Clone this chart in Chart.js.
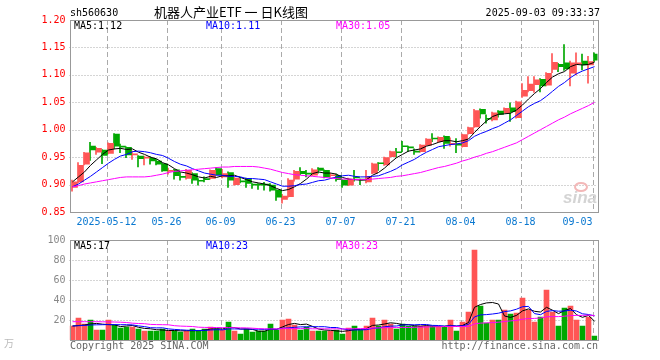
<!DOCTYPE html>
<html><head><meta charset="utf-8">
<script src="https://cdn.jsdelivr.net/npm/chart.js@4.4.1/dist/chart.umd.min.js"></script>
<style>
html,body{margin:0;padding:0;background:#fff;}
#wrap{position:relative;width:660px;height:360px;overflow:hidden;}
#wrap canvas{position:absolute;left:0;top:0;}
</style></head><body>
<div id="wrap"><canvas id="k" width="660" height="360"></canvas><canvas id="v" width="660" height="360"></canvas></div>
<script>
const dates = ['04-29','04-30','05-06','05-07','05-08','05-09','05-12','05-13','05-14','05-15','05-16','05-19','05-20','05-21','05-22','05-23','05-26','05-27','05-28','05-29','05-30','06-03','06-04','06-05','06-06','06-09','06-10','06-11','06-12','06-13','06-16','06-17','06-18','06-19','06-20','06-23','06-24','06-25','06-26','06-27','06-30','07-01','07-02','07-03','07-04','07-07','07-08','07-09','07-10','07-11','07-14','07-15','07-16','07-17','07-18','07-21','07-22','07-23','07-24','07-25','07-28','07-29','07-30','07-31','08-01','08-04','08-05','08-06','08-07','08-08','08-11','08-12','08-13','08-14','08-15','08-18','08-19','08-20','08-21','08-22','08-25','08-26','08-27','08-28','08-29','09-01','09-02','09-03'];
const tickDates = ['05-12','05-26','06-09','06-23','07-07','07-21','08-04','08-18','09-03'];
const tickTexts = ['2025-05-12','05-26','06-09','06-23','07-07','07-21','08-04','08-18','09-03'];

const open = [.895,.905,.937,.970,.959,.963,.957,.992,.970,.968,.954,.952,.948,.948,.943,.938,.924,.927,.915,.911,.920,.907,.910,.911,.929,.914,.922,.900,.906,.911,.900,.900,.900,.899,.890,.873,.878,.910,.924,.920,.917,.930,.926,.916,.917,.908,.899,.913,.909,.905,.921,.939,.936,.951,.959,.970,.969,.961,.960,.972,.984,.978,.988,.973,.974,.969,.993,1.005,1.037,1.020,1.018,1.034,1.031,1.040,1.022,1.061,1.071,1.082,1.092,1.081,1.110,1.119,1.122,1.103,1.120,1.125,1.118,1.138];
const high = [.908,.940,.959,.977,.968,.964,.976,.993,.974,.969,.961,.953,.952,.951,.946,.939,.930,.928,.922,.928,.922,.911,.914,.927,.931,.928,.923,.913,.913,.912,.902,.902,.904,.902,.891,.882,.911,.926,.931,.926,.929,.931,.927,.921,.919,.909,.912,.926,.910,.926,.939,.940,.950,.961,.966,.979,.970,.965,.973,.984,.993,.987,.989,.985,.984,.992,1.005,1.037,1.038,1.027,1.032,1.035,1.040,1.049,1.052,1.084,1.097,1.097,1.093,1.104,1.139,1.121,1.155,1.125,1.140,1.138,1.134,1.140];
const low = [.888,.903,.936,.944,.955,.938,.956,.965,.958,.949,.946,.932,.936,.937,.936,.924,.919,.910,.908,.910,.902,.899,.905,.910,.917,.912,.895,.899,.903,.895,.893,.891,.890,.888,.871,.866,.877,.906,.918,.914,.916,.921,.912,.913,.906,.895,.898,.906,.900,.903,.920,.926,.935,.950,.950,.960,.960,.955,.959,.971,.978,.977,.966,.970,.958,.968,.992,1.004,1.021,1.012,1.016,1.023,1.030,1.015,1.021,1.059,1.069,1.068,1.069,1.080,1.104,1.106,1.108,1.080,1.100,1.109,1.085,1.124];
const close = [.905,.935,.958,.963,.966,.953,.975,.970,.968,.954,.956,.947,.950,.943,.937,.925,.926,.916,.913,.926,.908,.906,.909,.926,.918,.920,.908,.912,.905,.902,.899,.899,.899,.890,.877,.879,.908,.924,.920,.919,.927,.926,.914,.917,.909,.899,.910,.912,.908,.915,.938,.938,.949,.960,.958,.969,.967,.959,.972,.983,.983,.986,.975,.975,.972,.991,1.004,1.035,1.029,1.019,1.031,1.028,1.039,1.033,1.051,1.072,1.083,1.091,1.080,1.103,1.123,1.115,1.111,1.122,1.122,1.118,1.124,1.127];

const ma5 = [.905,.914,.923,.935,.945,.955,.963,.965,.966,.964,.965,.959,.955,.950,.947,.940,.936,.929,.923,.921,.918,.914,.912,.915,.913,.916,.916,.917,.913,.909,.905,.903,.901,.898,.893,.889,.891,.896,.902,.910,.920,.923,.921,.921,.919,.913,.910,.909,.908,.909,.917,.922,.930,.940,.949,.955,.961,.963,.965,.970,.973,.977,.980,.980,.978,.980,.983,.995,1.006,1.016,1.024,1.028,1.029,1.030,1.036,1.045,1.056,1.066,1.075,1.086,1.096,1.102,1.106,1.115,1.119,1.118,1.119,1.123];
const ma10 = [.896,.901,.908,.915,.923,.931,.939,.946,.952,.955,.960,.961,.960,.958,.955,.953,.948,.942,.937,.934,.929,.925,.921,.919,.917,.917,.915,.915,.914,.911,.911,.910,.909,.905,.901,.897,.897,.898,.900,.901,.904,.907,.908,.911,.914,.916,.917,.915,.914,.914,.915,.916,.920,.924,.929,.936,.941,.946,.953,.959,.964,.969,.971,.973,.974,.976,.980,.988,.993,.997,1.002,1.006,1.012,1.018,1.026,1.034,1.042,1.048,1.053,1.061,1.070,1.079,1.086,1.095,1.102,1.107,1.111,1.115];
const ma30 = [.896,.898,.901,.903,.905,.907,.909,.911,.913,.914,.914,.914,.914,.915,.917,.919,.922,.924,.925,.926,.927,.928,.929,.930,.931,.932,.932,.933,.933,.933,.933,.932,.930,.928,.925,.922,.920,.918,.917,.916,.915,.914,.913,.912,.911,.910,.910,.909,.909,.909,.910,.911,.912,.913,.915,.916,.918,.920,.922,.925,.928,.931,.933,.936,.939,.943,.946,.950,.953,.957,.960,.964,.968,.972,.976,.982,.988,.994,1.000,1.006,1.012,1.018,1.023,1.029,1.034,1.039,1.044,1.050];

const volume = [14,22,16,20,10,10,20,15,12,13,13,11,9,9,9,11,9,9,8,9,11,9,11,13,11,10,18,9,6,11,8,9,9,16,10,20,21,15,10,13,9,9,9,9,10,6,12,14,10,14,22,14,20,16,11,16,14,14,14,14,14,13,14,20,9,18,28,90,34,17,20,20,30,26,27,42,30,18,23,50,28,14,32,34,20,14,23,4];
const vma5 = [14,14.5,15,16,16.6,15.8,15.4,15.2,13.4,14.0,14.5,12.7,11.6,11.2,10.3,10.0,9.5,9.5,9.2,9.3,9.3,9.4,9.8,10.9,11.3,11.0,12.8,12.4,11.0,11.0,10.6,8.8,8.8,10.8,10.6,13.1,15.5,16.6,15.4,15.9,13.6,11.0,10.0,9.7,9.1,8.6,9.3,10.3,10.6,11.4,14.6,15.0,16.0,17.2,16.6,15.4,15.4,14.3,13.8,14.4,13.9,13.7,13.5,14.7,13.7,14.5,17.5,32.7,35.5,37.1,37.5,36.0,24.0,22.6,24.6,29.1,31.1,28.7,28.0,32.7,29.8,26.4,29.4,31.5,25.3,22.7,24.6,18.8];
const vma10 = [14,14.3,14.6,15,15.2,15.3,15.4,15.4,15.3,15.3,15.1,14.1,13.4,12.3,12.1,12.2,11.1,10.6,10.2,9.8,9.6,9.4,9.6,10.0,10.3,10.1,11.1,11.1,10.9,11.1,10.8,10.8,10.6,10.9,10.8,11.8,12.1,12.7,13.1,13.2,13.3,13.3,13.3,12.5,12.5,11.1,10.2,10.1,10.1,10.3,11.6,12.1,13.2,13.9,14.0,15.0,15.2,15.2,15.5,15.5,14.6,14.5,13.9,14.3,14.1,14.2,15.6,23.1,25.1,25.4,26.0,26.8,28.4,29.1,30.8,33.3,33.6,26.4,25.3,28.6,29.4,28.8,29.0,29.8,29.0,26.2,25.5,24.1];
const vma30 = [18.3,18.3,18.3,18.3,18.3,18.2,18.1,18.0,17.8,17.5,16.8,16.5,16.3,15.6,15.4,15.3,15.2,14.3,13.9,13.7,13.5,12.8,12.6,12.5,12.5,12.4,12.4,12.3,12.2,12.1,11.8,11.4,11.2,11.1,11.1,11.4,11.4,11.4,11.4,11.4,11.2,11.2,11.2,11.1,11.2,11.0,11.1,11.3,11.4,11.5,11.9,12.1,12.3,12.4,12.4,12.6,12.5,12.7,12.9,13.0,13.2,13.3,13.5,13.6,13.5,13.4,13.6,16.1,16.9,17.1,17.4,17.8,18.5,19.1,19.6,20.8,21.4,21.6,22.0,23.2,23.4,23.4,23.8,24.4,24.6,24.6,24.9,24.5];

const priceMin = 0.85, priceMax = 1.20, priceStep = 0.05;
const volMin = 0, volMax = 100, volStep = 20;
const legendPrice = ['MA5:1.12','MA10:1.11','MA30:1.05'];
const legendVol = ['MA5:17','MA10:23','MA30:23'];

const UP = '#ff5555', DOWN = '#00a800';
const MA_COLORS = ['#000000','#0000ff','#ff00ff'];
const MONO = '"DejaVu Sans Mono", monospace';
const candleColor = close.map((c,i)=> c >= open[i] ? UP : DOWN);
const PAD_RIGHT = 62.5, AXIS_W = 69.5;

function gridPlugin(id){
  return {
    id: id,
    beforeDatasetsDraw(chart){
      const {ctx, chartArea:a, scales:{x, y}} = chart;
      ctx.save();
      ctx.strokeStyle = '#aaaaaa';
      ctx.lineWidth = 1;
      ctx.setLineDash([1,2]);
      y.ticks.forEach(t=>{
        if (t.value <= y.min + 1e-9 || t.value >= y.max - 1e-9) return;
        const py = Math.round(y.getPixelForValue(t.value)) + 0.5;
        ctx.beginPath(); ctx.moveTo(a.left, py); ctx.lineTo(a.right, py); ctx.stroke();
      });
      ctx.setLineDash([5,3]);
      tickDates.forEach(d=>{
        const i = dates.indexOf(d);
        const px = Math.round(x.getPixelForValue(i)) - 1.5;
        ctx.beginPath(); ctx.moveTo(px, a.top); ctx.lineTo(px, a.bottom); ctx.stroke();
      });
      ctx.restore();
    },
    afterDatasetsDraw(chart){
      const {ctx, chartArea:a} = chart;
      ctx.save();
      ctx.strokeStyle = '#999999';
      ctx.lineWidth = 1;
      ctx.strokeRect(Math.round(a.left)+0.5, Math.round(a.top)+0.5, Math.round(a.right-a.left), Math.round(a.bottom-a.top));
      ctx.restore();
    }
  };
}

const textPrice = {
  id:'textPrice',
  afterDraw(chart){
    const ctx = chart.ctx;
    ctx.save();
    ctx.textBaseline = 'middle';
    ctx.fillStyle = '#000';
    ctx.font = '10px ' + MONO;
    ctx.textAlign = 'left';
    ctx.fillText('sh560630', 70, 13);
    ctx.textAlign = 'right';
    ctx.fillText('2025-09-03 09:33:37', 600, 13);
    ctx.textAlign = 'center';
    ctx.font = '13px "Noto Sans CJK SC", sans-serif';
    ctx.fillText('机器人产业ETF 一 日K线图', 231, 12.5);
    ctx.font = '10px ' + MONO;
    ctx.textAlign = 'left';
    const xs = [74, 206, 336];
    legendPrice.forEach((t,k)=>{ ctx.fillStyle = MA_COLORS[k]; ctx.fillText(t, xs[k], 26.5); });
    ctx.fillStyle = '#d4d4d4';
    ctx.font = 'italic bold 17px "Liberation Sans", sans-serif';
    ctx.fillText('sina', 563, 198);
    ctx.strokeStyle = '#f3b8b8';
    ctx.lineWidth = 2;
    ctx.beginPath(); ctx.ellipse(581, 187, 6, 4, 0, 0, Math.PI*2); ctx.stroke();
    ctx.restore();
  }
};

const textVol = {
  id:'textVol',
  afterDraw(chart){
    const ctx = chart.ctx;
    ctx.save();
    ctx.textBaseline = 'middle';
    ctx.font = '10px ' + MONO;
    ctx.textAlign = 'left';
    const xs = [74, 206, 336];
    legendVol.forEach((t,k)=>{ ctx.fillStyle = MA_COLORS[k]; ctx.fillText(t, xs[k], 246.5); });
    ctx.fillStyle = '#666';
    ctx.fillText('Copyright 2025 SINA.COM', 70, 346);
    ctx.textAlign = 'right';
    ctx.fillText('http://finance.sina.com.cn', 598, 346);
    ctx.textAlign = 'left';
    ctx.fillStyle = '#bbb';
    ctx.font = '10px "Noto Sans CJK SC", sans-serif';
    ctx.fillText('万', 4, 343);
    ctx.restore();
  }
};

function lineDs(data, color){
  return {type:'line', data:data, borderColor:color, borderWidth:1, pointRadius:0, tension:0, fill:false, order:1};
}

new Chart(document.getElementById('k'), {
  data: {
    labels: dates,
    datasets: [
      {type:'bar', xAxisID:'xw', data: dates.map((d,i)=>[low[i], high[i]]), backgroundColor: candleColor, barThickness:1, order:3},
      {type:'bar', xAxisID:'x', data: dates.map((d,i)=>[open[i], close[i]]), backgroundColor: candleColor, barThickness:5, minBarLength:1, order:2},
      lineDs(ma30, MA_COLORS[2]),
      lineDs(ma10, MA_COLORS[1]),
      lineDs(ma5, MA_COLORS[0])
    ]
  },
  options: {
    responsive:false, animation:false, devicePixelRatio:1,
    layout:{padding:{left:0, right:PAD_RIGHT, top:20, bottom:128}},
    plugins:{legend:{display:false}, tooltip:{enabled:false}, title:{display:false}},
    scales:{
      x:{type:'category', offset:true,
         grid:{display:false, drawTicks:false}, border:{display:false},
         ticks:{autoSkip:false, maxRotation:0, minRotation:0, align:'inner', labelOffset:-2, padding:4,
                color:'#0a78d0', font:{family:MONO, size:10},
                callback:(v,i)=>{ const k = tickDates.indexOf(dates[i]); return k >= 0 ? tickTexts[k] : ''; }},
         afterFit:s=>{ s.height = 20; }},
      xw:{type:'category', offset:true, display:false},
      y:{type:'linear', min:priceMin, max:priceMax,
         grid:{display:false, drawTicks:false}, border:{display:false},
         ticks:{stepSize:priceStep, color:'#ff0000', padding:4, font:{family:MONO, size:10},
                callback:v=>Number(v).toFixed(2)},
         afterFit:s=>{ s.width = AXIS_W; }}
    }
  },
  plugins:[gridPlugin('gridK'), textPrice]
});

new Chart(document.getElementById('v'), {
  data: {
    labels: dates,
    datasets: [
      {type:'bar', data: volume, backgroundColor: candleColor, barThickness:5, order:2},
      lineDs(vma30, MA_COLORS[2]),
      lineDs(vma10, MA_COLORS[1]),
      lineDs(vma5, MA_COLORS[0])
    ]
  },
  options: {
    responsive:false, animation:false, devicePixelRatio:1,
    layout:{padding:{left:0, right:PAD_RIGHT, top:240, bottom:20}},
    plugins:{legend:{display:false}, tooltip:{enabled:false}, title:{display:false}},
    scales:{
      x:{type:'category', offset:true, display:false},
      y:{type:'linear', min:volMin, max:volMax,
         grid:{display:false, drawTicks:false}, border:{display:false},
         ticks:{stepSize:volStep, color:'#888888', padding:4, font:{family:MONO, size:10},
                callback:v=> v === 0 ? '' : String(v)},
         afterFit:s=>{ s.width = AXIS_W; }}
    }
  },
  plugins:[gridPlugin('gridV'), textVol]
});
</script>
</body></html>
